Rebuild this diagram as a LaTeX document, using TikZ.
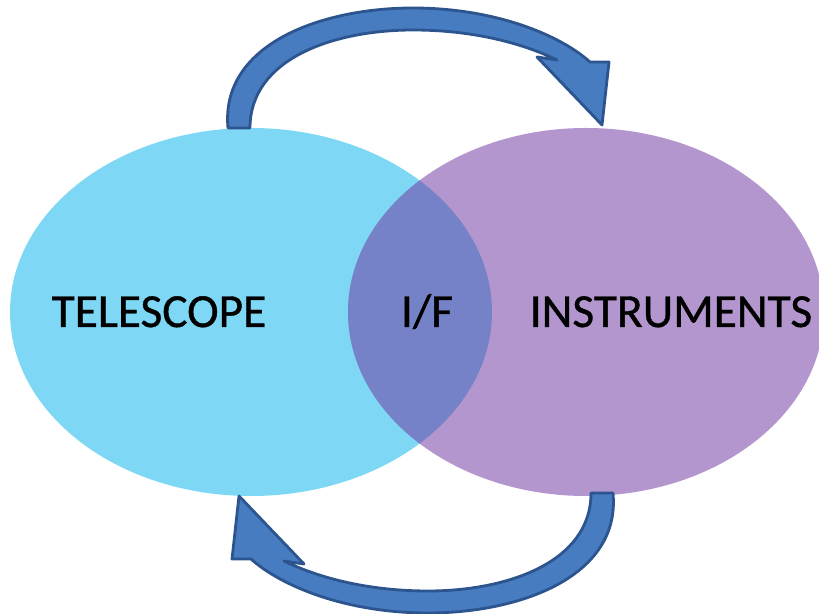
\documentclass[tikz,border=0pt]{standalone}
\usepackage{fontspec}
\setmainfont{Carlito}
\newfontfamily\vennfont[FakeBold=0.8]{Carlito}
\usepackage{tikz}
\usetikzlibrary{calc}
\definecolor{telcyan}{RGB}{125,215,245}
\definecolor{insviolet}{RGB}{180,150,206}
\definecolor{ifblue}{RGB}{118,130,200}
\definecolor{arrfill}{RGB}{72,124,192}
\definecolor{arrline}{RGB}{44,84,142}
\newcommand{\blob}[5]{ \fill[#5] ( #1 , #2 ) ellipse ( #3 and #4 );}
\newcommand{\bentarrow}{ \filldraw[arrowband] (228,128) .. controls (220,45) and (320,8) .. (413,8) .. controls (495,8) and (560,35) .. (590,62) -- (609,62) -- (602,125) -- (537,57) -- (557,60) .. controls (520,42) and (470,30) .. (413,30) .. controls (335,30) and (250,58) .. (250,128) -- cycle;}
\tikzset{arrowband/.style={fill=arrfill, draw=arrline, line width=1.6pt, line join=round},
         venntext/.style={font=\vennfont\fontsize{27}{30}\selectfont, anchor=base, inner sep=0pt}}

\begin{document}
\begin{tikzpicture}[x=0.02cm,y=-0.02cm]
        \useasboundingbox (0,0) rectangle (819,614);
        \clip (0,0) rectangle (819,614);
        % circles
        \blob{251}{312}{241}{184}{telcyan}
        \blob{586}{312}{238}{184}{insviolet}
        \begin{scope}
            \clip (251,312) ellipse (241 and 184);
            \blob{586}{312}{238}{184}{ifblue}
        \end{scope}

        % arrows
        \bentarrow
        \begin{scope}[rotate around={180:(420.5,310.5)}]
            \bentarrow
        \end{scope}

        % labels
        \node[venntext] (tel) at (159,327) {TELESCOPE};
        \node[venntext] (if) at (427,327) {I/F};
        \node[venntext] (ins) at (671,327) {INSTRUMENTS};

    \end{tikzpicture}
\end{document}
